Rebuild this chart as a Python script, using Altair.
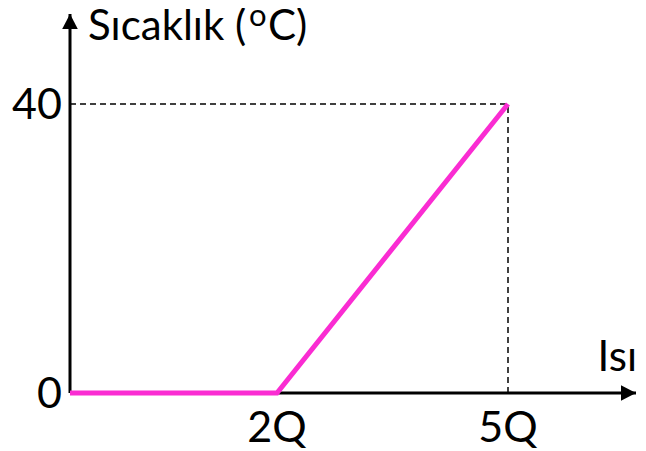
import altair as alt
import pandas as pd

# Data
heat_values = [0, 2, 5]          # heat in units of Q
temp_values = [0, 0, 40]         # temperature (°C)
x_tick_values = [2, 5]
x_tick_labels = ["2Q", "5Q"]
y_tick_values = [0, 40]
y_tick_labels = ["0", "40"]
x_axis_end = 6.66
y_axis_end = 52.3
title_parts = ["Sıcaklık (", "o", "C)"]
x_axis_title = "Isı"

W, H = 566, 379
x_scale = alt.Scale(domain=[0, 2, 5, x_axis_end], range=[0, 207, 438, W])
y_scale = alt.Scale(domain=[0, 40, y_axis_end], range=[H, 90, 0])

FONT = "Lato"

line_df = pd.DataFrame({"x": heat_values, "y": temp_values})
axes_df = pd.DataFrame({"x": [0, 0], "y": [0, 0], "x2": [x_axis_end, 0], "y2": [0, y_axis_end]})
dash_df = pd.DataFrame({"x": [0, heat_values[2]], "y": [temp_values[2], 0],
                        "x2": [heat_values[2], heat_values[2]], "y2": [temp_values[2], temp_values[2]]})
arrow_df = pd.DataFrame({"x": [x_axis_end, 0], "y": [0, y_axis_end],
                         "shape": ["M -1 -0.52 L 0 0 L -1 0.52 Z", "M -0.52 1 L 0 0 L 0.52 1 Z"]})
xt_df = pd.DataFrame({"x": x_tick_values, "y": [0, 0], "t": x_tick_labels})
yt_df = pd.DataFrame({"x": [0, 0], "y": y_tick_values, "t": y_tick_labels})

X = lambda f="x": alt.X(f"{f}:Q", scale=x_scale, axis=None)
Y = lambda f="y": alt.Y(f"{f}:Q", scale=y_scale, axis=None)

axes = alt.Chart(axes_df).mark_rule(color="black", strokeWidth=3).encode(
    x=X(), y=Y(), x2="x2:Q", y2="y2:Q")

arrows = alt.Chart(arrow_df).mark_point(filled=True, color="black", opacity=1, size=900, strokeWidth=0).encode(
    x=X(), y=Y(), shape=alt.Shape("shape:N", scale=None))

dashes = alt.Chart(dash_df).mark_rule(color="black", strokeWidth=1.5, strokeDash=[6, 4]).encode(
    x=X(), y=Y(), x2="x2:Q", y2="y2:Q")

line = alt.Chart(line_df).mark_line(color="#FA2CD2", strokeWidth=5, strokeCap="butt").encode(
    x=X(), y=Y())

xt = alt.Chart(xt_df).mark_text(font=FONT, fontSize=43, baseline="top", align="center", dy=15, color="black").encode(
    x=X(), y=Y(), text="t:N")

yt = alt.Chart(yt_df).mark_text(font=FONT, fontSize=43, baseline="middle", align="right", dx=-8, dy=2, color="black").encode(
    x=X(), y=Y(), text="t:N")

title_df = pd.DataFrame({"x": [0, 0, 0], "y": [y_axis_end] * 3, "t": title_parts})
t1 = alt.Chart(title_df.iloc[[0]]).mark_text(
    font=FONT, fontSize=42, baseline="alphabetic", align="left", dx=18, dy=26, color="black").encode(
    x=X(), y=Y(), text="t:N")
t2 = alt.Chart(title_df.iloc[[1]]).mark_text(
    font=FONT, fontSize=31, baseline="alphabetic", align="left", dx=179, dy=12, color="black").encode(
    x=X(), y=Y(), text="t:N")
t3 = alt.Chart(title_df.iloc[[2]]).mark_text(
    font=FONT, fontSize=42, baseline="alphabetic", align="left", dx=198, dy=26, color="black").encode(
    x=X(), y=Y(), text="t:N")

xlab_df = pd.DataFrame({"x": [x_axis_end], "y": [0], "t": [x_axis_title]})
xlab = alt.Chart(xlab_df).mark_text(font=FONT, fontSize=42, baseline="middle", align="right", dx=1, dy=-35, color="black").encode(
    x=X(), y=Y(), text="t:N")

chart = alt.layer(axes, dashes, line, arrows, xt, yt, t1, t2, t3, xlab).properties(
    width=W, height=H,
    autosize=alt.AutoSizeParams(type="none"),
    padding={"left": 62, "top": 6, "right": 2, "bottom": 58},
).configure_view(stroke=None)

chart.save("out.html", embed_options={"renderer": "svg", "actions": False})
